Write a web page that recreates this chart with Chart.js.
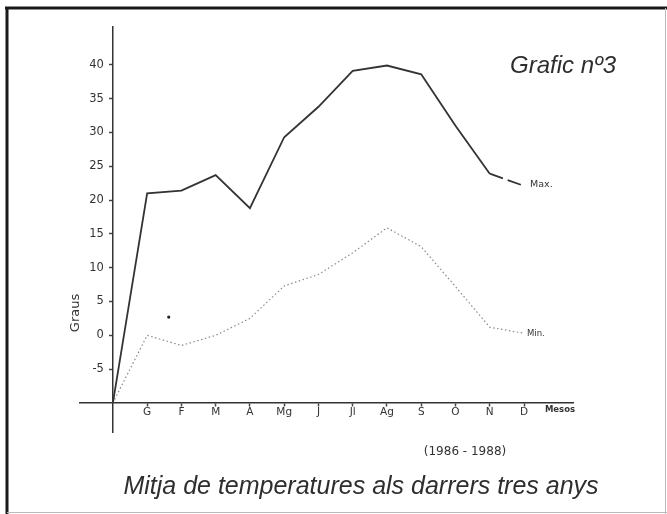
<!DOCTYPE html>
<html><head><meta charset="utf-8">
<script src="https://cdn.jsdelivr.net/npm/chart.js@4.4.1/dist/chart.umd.min.js"></script>
<style>html,body{margin:0;padding:0;background:#fff;}#wrap{width:667px;height:514px;}</style>
</head><body><div id="wrap"><canvas id="c" width="667" height="514"></canvas></div>
<script>
const months = ['G','F','M','A','Mg','J','Jl','Ag','S','O','N','D'];
const originValue = -10;
const maxTemps = [21.0, 21.4, 23.7, 18.8, 29.3, 33.8, 39.1, 39.9, 38.6, 31.0, 23.9, 22.1];
const minTemps = [0.0, -1.5, 0.0, 2.5, 7.3, 9.0, 12.2, 15.9, 13.1, 7.2, 1.2, 0.3];
const strayMark = [{x: 1.63, y: 2.7}];
const yTickValues = [-5, 0, 5, 10, 15, 20, 25, 30, 35, 40];
const xAxisName = 'Mesos';
const yAxisName = 'Graus';
const chartTitle = 'Grafic nº3';
const chartCaption = 'Mitja de temperatures als darrers tres anys';
const periodLabel = '(1986 - 1988)';
const seriesNames = ['Max.', 'Min.'];

const toPoints = vals => [{x: 0, y: originValue}].concat(vals.map((v, i) => ({x: i + 1, y: v})));

const decor = {
  id: 'decor',
  beforeDraw(chart) {
    const c = chart.ctx;
    c.save();
    c.fillStyle = '#ffffff';
    c.fillRect(0, 0, chart.width, chart.height);
    c.strokeStyle = '#1a1a1a';
    c.lineWidth = 3;
    c.beginPath(); c.moveTo(5, 8); c.lineTo(667, 8); c.stroke();
    c.beginPath(); c.moveTo(7, 7); c.lineTo(7, 514); c.stroke();
    c.strokeStyle = '#bbbbbb';
    c.lineWidth = 1;
    c.beginPath(); c.moveTo(7, 512.5); c.lineTo(667, 512.5); c.stroke();
    c.beginPath(); c.moveTo(665.5, 8); c.lineTo(665.5, 514); c.stroke();
    c.restore();
  },
  afterDraw(chart) {
    const c = chart.ctx;
    const xs = chart.scales.x, ys = chart.scales.y;
    c.save();
    // y tick labels, placed left of the axis line
    c.fillStyle = '#333';
    c.font = '11.5px "DejaVu Sans", sans-serif';
    c.textAlign = 'right';
    c.textBaseline = 'middle';
    const ax = xs.getPixelForValue(0);
    ys.ticks.forEach(t => c.fillText(String(t.value), ax - 9, ys.getPixelForValue(t.value)));

    c.fillStyle = '#2e2e2e';
    c.textBaseline = 'alphabetic';
    c.font = 'italic 24px "Liberation Sans", Arial, sans-serif';
    c.textAlign = 'left';
    c.fillText(chartTitle, 510, 73);
    c.font = 'italic 25px "Liberation Sans", Arial, sans-serif';
    c.textAlign = 'center';
    c.fillText(chartCaption, 361, 494);
    c.font = '12px "DejaVu Sans", sans-serif';
    c.textBaseline = 'middle';
    c.fillStyle = '#333';
    c.fillText(periodLabel, 465, 452);
    c.font = 'bold 8.5px "DejaVu Sans", sans-serif';
    c.fillText(xAxisName, xs.getPixelForValue(13.05), 410);
    const dx = xs.getPixelForValue(12);
    c.textAlign = 'left';
    c.font = '9.5px "DejaVu Sans", sans-serif';
    c.fillText(seriesNames[0], dx + 6, ys.getPixelForValue(maxTemps[11]) - 1);
    c.font = '8.5px "DejaVu Sans", sans-serif';
    c.fillText(seriesNames[1], dx + 3, ys.getPixelForValue(minTemps[11]) + 1);
    c.translate(76, 313);
    c.rotate(-Math.PI / 2);
    c.textAlign = 'center';
    c.font = '13px "DejaVu Sans", sans-serif';
    c.fillText(yAxisName, 0, 0);
    c.restore();
  }
};

new Chart(document.getElementById('c'), {
  type: 'line',
  data: {
    datasets: [
      {
        label: seriesNames[0],
        data: toPoints(maxTemps),
        borderColor: '#333',
        borderWidth: 1.8,
        pointRadius: 0,
        tension: 0,
        segment: { borderDash: ctx => ctx.p0DataIndex === 11 ? [14, 5] : undefined }
      },
      {
        label: seriesNames[1],
        data: toPoints(minTemps),
        borderColor: '#8a8a8a',
        borderWidth: 1.2,
        borderDash: [1.5, 2.5],
        pointRadius: 0,
        tension: 0
      },
      {
        type: 'scatter',
        label: 'mark',
        data: strayMark,
        pointRadius: 1.6,
        pointBackgroundColor: '#222',
        pointBorderWidth: 0,
        showLine: false
      }
    ]
  },
  options: {
    responsive: false,
    animation: false,
    devicePixelRatio: 1,
    layout: { padding: { left: 80, right: 94, top: 27, bottom: 82 } },
    plugins: { legend: { display: false }, tooltip: { enabled: false }, title: { display: false } },
    scales: {
      x: {
        type: 'linear',
        min: -0.96,
        max: 13.43,
        position: { y: originValue },
        afterBuildTicks: s => { s.ticks = months.map((m, i) => ({ value: i + 1 })); },
        ticks: {
          callback: v => months[v - 1] || '',
          autoSkip: false, maxRotation: 0, padding: 0,
          color: '#333',
          font: { family: '"DejaVu Sans", sans-serif', size: 10.5 }
        },
        grid: { drawOnChartArea: false, drawTicks: true, tickLength: 3, color: '#444', tickWidth: 1.5 },
        border: { color: '#333', width: 1.5 }
      },
      y: {
        type: 'linear',
        min: -14.3,
        max: 45.6,
        position: { x: 0 },
        afterBuildTicks: s => { s.ticks = yTickValues.map(v => ({ value: v })); },
        ticks: { display: false },
        grid: { drawOnChartArea: false, drawTicks: true, tickLength: 3, color: '#444', tickWidth: 1.5 },
        border: { color: '#333', width: 1.5 }
      }
    }
  },
  plugins: [decor]
});
</script>
</body></html>
